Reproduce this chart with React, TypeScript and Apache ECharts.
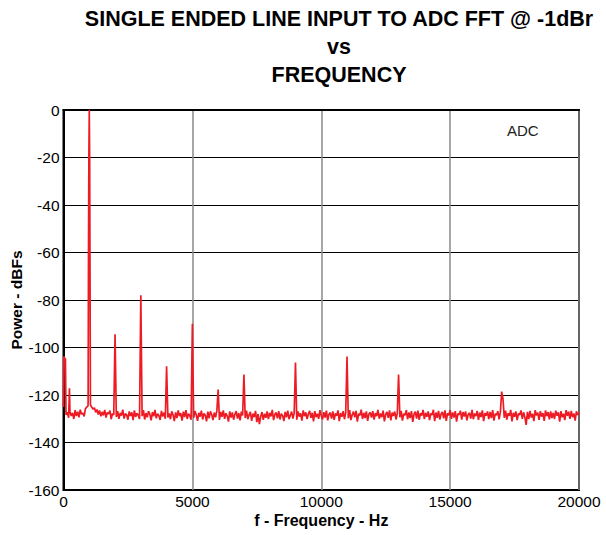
import React, { useEffect, useRef } from "react";
import * as echarts from "echarts";

// Trace at 50 Hz steps (0 .. 20000 Hz), dBFs
const STEP_HZ = 50;
const noiseFloor: number[] = [
  -125.0, -126.8, -128.4, -127.2, -129.6, -126.9, -128.8, -127.5, -130.1, -126.4, -128.9, -127.0, -129.4, -126.2, -128.1, -127.6, -129.0, -125.8, -125.1, -124.6,
  -124.0, -124.3, -125.2, -126.0, -125.4, -127.3, -126.1, -128.2, -126.5, -129.0, -127.1, -128.6, -126.3, -129.5, -127.4, -128.0, -126.6, -130.2, -127.8, -128.4,
  -127.0, -129.3, -126.8, -130.0, -127.5, -128.7, -126.2, -129.9, -127.9, -128.3, -130.4, -126.9, -128.8, -127.3, -130.6, -126.5, -129.2, -127.7, -128.5, -130.1,
  -127.0, -128.9, -126.4, -130.3, -127.6, -129.4, -126.8, -128.1, -130.7, -127.2, -129.0, -126.3, -129.8, -127.9, -128.6, -130.5, -126.7, -129.1, -127.4, -130.0,
  -126.6, -129.5, -127.8, -130.2, -126.9, -128.4, -131.0, -127.3, -129.7, -126.5, -128.9, -127.6, -130.8, -127.0, -129.3, -126.4, -130.1, -127.9, -128.7, -130.4,
  -127.2, -129.6, -126.8, -128.3, -130.9, -127.5, -129.1, -126.6, -130.3, -127.8, -128.5, -131.1, -127.0, -129.8, -126.9, -128.2, -130.6, -127.4, -129.4, -126.7,
  -128.0, -130.5, -127.1, -129.2, -126.5, -130.0, -127.7, -128.8, -131.2, -126.9, -129.5, -127.3, -130.4, -128.1, -126.8, -129.9, -127.6, -130.7, -127.0, -128.6,
  -127.3, -129.7, -126.6, -130.2, -128.4, -127.1, -130.9, -127.8, -129.3, -126.7, -131.4, -128.0, -132.3, -129.1, -127.2, -130.5, -127.9, -129.6, -126.9, -130.1,
  -127.5, -129.0, -126.3, -130.6, -128.2, -127.4, -129.8, -126.8, -130.3, -127.9, -128.7, -131.0, -127.1, -129.4, -126.6, -130.2, -128.5, -127.0, -129.9, -127.6,
  -127.0, -130.4, -126.9, -129.1, -127.7, -130.8, -126.5, -128.9, -127.3, -130.1, -128.0, -126.7, -129.6, -127.5, -131.1, -126.8, -129.3, -127.9, -130.0, -126.4,
  -128.6, -130.3, -127.2, -129.5, -126.6, -130.7, -128.1, -127.4, -129.9, -126.9, -130.5, -127.8, -128.8, -126.5, -131.0, -127.6, -129.2, -126.8, -130.2, -127.3,
  -127.1, -129.8, -126.4, -130.6, -128.3, -127.0, -129.4, -126.7, -131.2, -127.9, -128.6, -126.2, -130.1, -127.5, -129.7, -126.9, -130.9, -128.0, -127.3, -129.5,
  -126.8, -130.4, -127.6, -128.9, -126.3, -130.0, -127.8, -129.3, -126.6, -131.1, -128.2, -127.1, -129.6, -126.5, -130.7, -127.4, -128.8, -126.9, -130.3, -127.7,
  -127.2, -129.4, -126.7, -130.8, -127.9, -128.5, -126.4, -130.2, -127.3, -129.7, -126.8, -131.3, -128.1, -127.0, -129.9, -126.6, -130.5, -127.6, -128.7, -126.3,
  -130.1, -127.5, -129.2, -126.9, -130.6, -127.8, -128.4, -126.2, -131.0, -127.4, -129.6, -126.7, -130.3, -128.0, -127.1, -129.8, -126.5, -130.9, -127.7, -128.6,
  -126.4, -130.0, -127.3, -129.5, -126.8, -131.2, -127.9, -128.3, -126.6, -130.4, -127.2, -129.1, -126.9, -130.7, -128.2, -127.5, -129.9, -126.3, -130.2, -127.8,
  -128.9, -126.7, -130.5, -127.4, -129.3, -126.5, -131.0, -127.6, -128.7, -126.9, -130.1, -127.1, -129.7, -126.4, -130.8, -127.9, -128.5, -126.8, -130.3, -127.2,
  -127.0, -121.5, -129.6, -126.6, -130.4, -127.7, -128.8, -126.3, -131.1, -127.5, -129.2, -126.9, -130.6, -127.8, -128.4, -126.5, -130.0, -127.3, -129.4, -132.6,
  -127.1, -130.2, -126.7, -129.5, -127.9, -131.0, -126.4, -128.6, -127.4, -130.5, -126.8, -129.1, -127.6, -130.9, -126.5, -128.9, -127.2, -130.3, -126.9, -129.7,
  -127.5, -130.1, -126.6, -128.7, -127.3, -131.2, -126.8, -129.4, -127.9, -130.6, -126.4, -128.8, -127.0, -130.0, -126.7, -129.3, -127.8, -130.8, -126.9, -128.4,
  -127.5,
];

// Low-frequency (DC) region
const lowFreqHz: number[] = [0, 12, 35, 50, 75, 95];
const lowFreqDb: number[] = [-125.0, -103.8, -104.2, -105.0, -104.6, -126.8];

// Fundamental at 1 kHz
const carrierHz: number[] = [955, 970, 985, 1000, 1015, 1030, 1045];
const carrierDb: number[] = [-123.5, -60, -19, 0, -20, -70, -123.8];

// Spurs / harmonics
const spurHz: number[] = [230, 2000, 3000, 4000, 5000, 6000, 7000, 9000, 11000, 13000, 17000];
const spurDb: number[] = [-117.2, -94.4, -78.0, -107.9, -90.0, -117.7, -111.4, -106.3, -103.8, -111.4, -118.6];

const xTicks = { min: 0, max: 20000, interval: 5000 };
const yTicks = { min: -160, max: 0, interval: 20 };

function buildTrace(): [number, number][] {
  const map = new Map<number, number>();
  noiseFloor.forEach((v, i) => map.set(i * STEP_HZ, v));
  const add = (fs: number[], ls: number[]) => fs.forEach((f, i) => map.set(f, ls[i]));
  add(lowFreqHz, lowFreqDb);
  add(carrierHz, carrierDb);
  add(spurHz, spurDb);
  return Array.from(map.entries()).sort((a, b) => a[0] - b[0]) as [number, number][];
}

const FONT = "'Liberation Sans', Arial, Helvetica, sans-serif";

export default function App() {
  const ref = useRef<HTMLDivElement>(null);
  useEffect(() => {
    if (!ref.current) return;
    const chart = echarts.init(ref.current, undefined, { renderer: "svg" });
    chart.setOption({
      animation: false,
      backgroundColor: "#fff",
      title: {
        text: "SINGLE ENDED LINE INPUT TO ADC FFT @ -1dBr\nvs\nFREQUENCY",
        left: 334,
        top: 0,
        textAlign: "center",
        textStyle: {
          fontFamily: FONT,
          fontSize: 21.5,
          fontWeight: "bold",
          color: "#000",
          lineHeight: 28,
        },
      },
      grid: {
        left: 63.5,
        right: 27,
        top: 110,
        bottom: 45,
        show: true,
        borderColor: "#000",
        borderWidth: 2,
        backgroundColor: "transparent",
        containLabel: false,
        outerBoundsMode: "none",
      },
      xAxis: {
        type: "value",
        min: xTicks.min,
        max: xTicks.max,
        interval: xTicks.interval,
        name: "f - Frequency - Hz",
        nameLocation: "middle",
        nameGap: 22,
        nameMoveOverlap: false,
        nameTextStyle: { fontFamily: FONT, fontSize: 16, fontWeight: "bold", color: "#000" },
        axisLine: { show: true, lineStyle: { color: "#000", width: 2 } },
        axisTick: { show: false },
        axisLabel: {
          fontFamily: FONT,
          fontSize: 15.5,
          color: "#000",
          margin: 3,
          formatter: (v: number) => String(v),
        },
        splitLine: { show: true, lineStyle: { color: "#888", width: 1.5 } },
      },
      yAxis: {
        type: "value",
        min: yTicks.min,
        max: yTicks.max,
        interval: yTicks.interval,
        name: "Power - dBFs",
        nameLocation: "middle",
        nameGap: 39,
        nameMoveOverlap: false,
        nameTextStyle: { fontFamily: FONT, fontSize: 15.5, fontWeight: "bold", color: "#000" },
        axisLine: { show: true, lineStyle: { color: "#000", width: 2 } },
        axisTick: { show: false },
        axisLabel: {
          fontFamily: FONT,
          fontSize: 15.5,
          color: "#000",
          margin: 4,
          formatter: (v: number) => String(v),
        },
        splitLine: { show: true, lineStyle: { color: "#000", width: 1 } },
      },
      graphic: [
        {
          type: "text",
          left: 507,
          top: 123,
          style: { text: "ADC", fontFamily: FONT, fontSize: 15, fill: "#222" },
        },
      ],
      series: [
        {
          type: "line",
          data: buildTrace(),
          showSymbol: false,
          symbol: "none",
          lineStyle: { color: "#ED1C24", width: 1.7 },
          clip: true,
          z: 3,
        },
      ],
    });
    return () => chart.dispose();
  }, []);
  return (
    <div
      ref={ref}
      style={{ position: "fixed", left: 0, top: 0, width: 606, height: 535, background: "#fff" }}
    />
  );
}
